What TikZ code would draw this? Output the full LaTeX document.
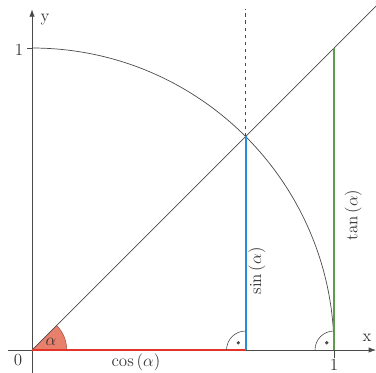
\documentclass[tikz,border=0pt]{standalone}
\usepackage{amsmath,amssymb}
\usepackage{xcolor}
\usepackage{tikz}
\usetikzlibrary{arrows.meta,positioning,calc}
\definecolor{cosred}{HTML}{E3342A}
\definecolor{linkblue}{HTML}{2A8CD6}
\definecolor{tangreen}{HTML}{5E9B4E}
\definecolor{sectorfill}{HTML}{E9806C}
\definecolor{axisgray}{HTML}{4A4A4A}

\begin{document}
\begin{tikzpicture}[
  x=9.06cm,y=9.06cm,
  axis/.style={-{Latex[length=2.2mm,width=1.6mm]},draw=axisgray,line width=0.6pt},
  plainline/.style={draw=axisgray,line width=0.6pt},
  colline/.style={line width=1.7pt},
  rightmark/.style={draw=axisgray,line width=0.5pt},
  lbl/.style={font=\fontsize{14.5}{16}\selectfont,text=black!80,inner sep=0.5pt}
]
\useasboundingbox (-0.106,-0.076) rectangle (1.139,1.159);
% points
\coordinate (O) at (0,0);
\coordinate (C) at ({cos(45)},0);
\coordinate (P) at ({cos(45)},{sin(45)});
\coordinate (A) at (1,0);
\coordinate (T) at (1,1);
\coordinate (B) at (0,1);
\coordinate (xs) at (-0.079,0);
\coordinate (xe) at (1.139,0);
\coordinate (ys) at (0,-0.076);
\coordinate (ye) at (0,1.128);
\coordinate (ray) at (1.14,1.14);
\coordinate (top) at ({cos(45)},1.128);
% angle sector
\fill[sectorfill] (O) -- (0.115,0) arc (0:45:0.115) -- cycle;
\draw[draw=sectorfill!70!black,line width=0.5pt] (0.115,0) arc (0:45:0.115);
% axes
\draw[axis] (xs) -- (xe);
\draw[axis] (ys) -- (ye);
\draw[plainline] (A) -- ++(0,-0.025);
\draw[plainline] (B) -- ++(-0.015,0);
% unit circle, ray and dashed line
\draw[plainline] (B) arc (90:0:1);
\draw[plainline] (O) -- (ray);
\draw[plainline,dashed] (P) -- (top);
% coloured segments
\draw[colline,draw=cosred] (O) -- (C);
\draw[colline,draw=linkblue] (C) -- (P);
\draw[colline,draw=tangreen] (A) -- (T);
% right angles
\draw[rightmark] ($(C)+(-0.063,0)$) arc (180:90:0.063);
\fill[axisgray] ($(C)+(-0.024,0.024)$) circle (0.006);
\draw[rightmark] ($(A)+(-0.063,0)$) arc (180:90:0.063);
\fill[axisgray] ($(A)+(-0.024,0.024)$) circle (0.006);
% labels
\node[lbl] (lalpha) at (0.063,0.027) {$\alpha$};
\node[lbl] (lzero) at (-0.046,-0.033) {0};
\node[lbl] (lone) at (1.0,-0.049) {1};
\node[lbl] (lyone) at (-0.043,0.993) {1};
\node[lbl] (ly) at (0.043,1.093) {y};
\node[lbl] (lx) at (1.109,0.040) {x};
\node[lbl] (lcos) at (0.344,-0.040) {cos\,($\alpha$)};
\node[lbl,rotate=90] (lsin) at (0.745,0.262) {sin\,($\alpha$)};
\node[lbl,rotate=90] (ltan) at (1.063,0.447) {tan\,($\alpha$)};
\end{tikzpicture}
\end{document}
